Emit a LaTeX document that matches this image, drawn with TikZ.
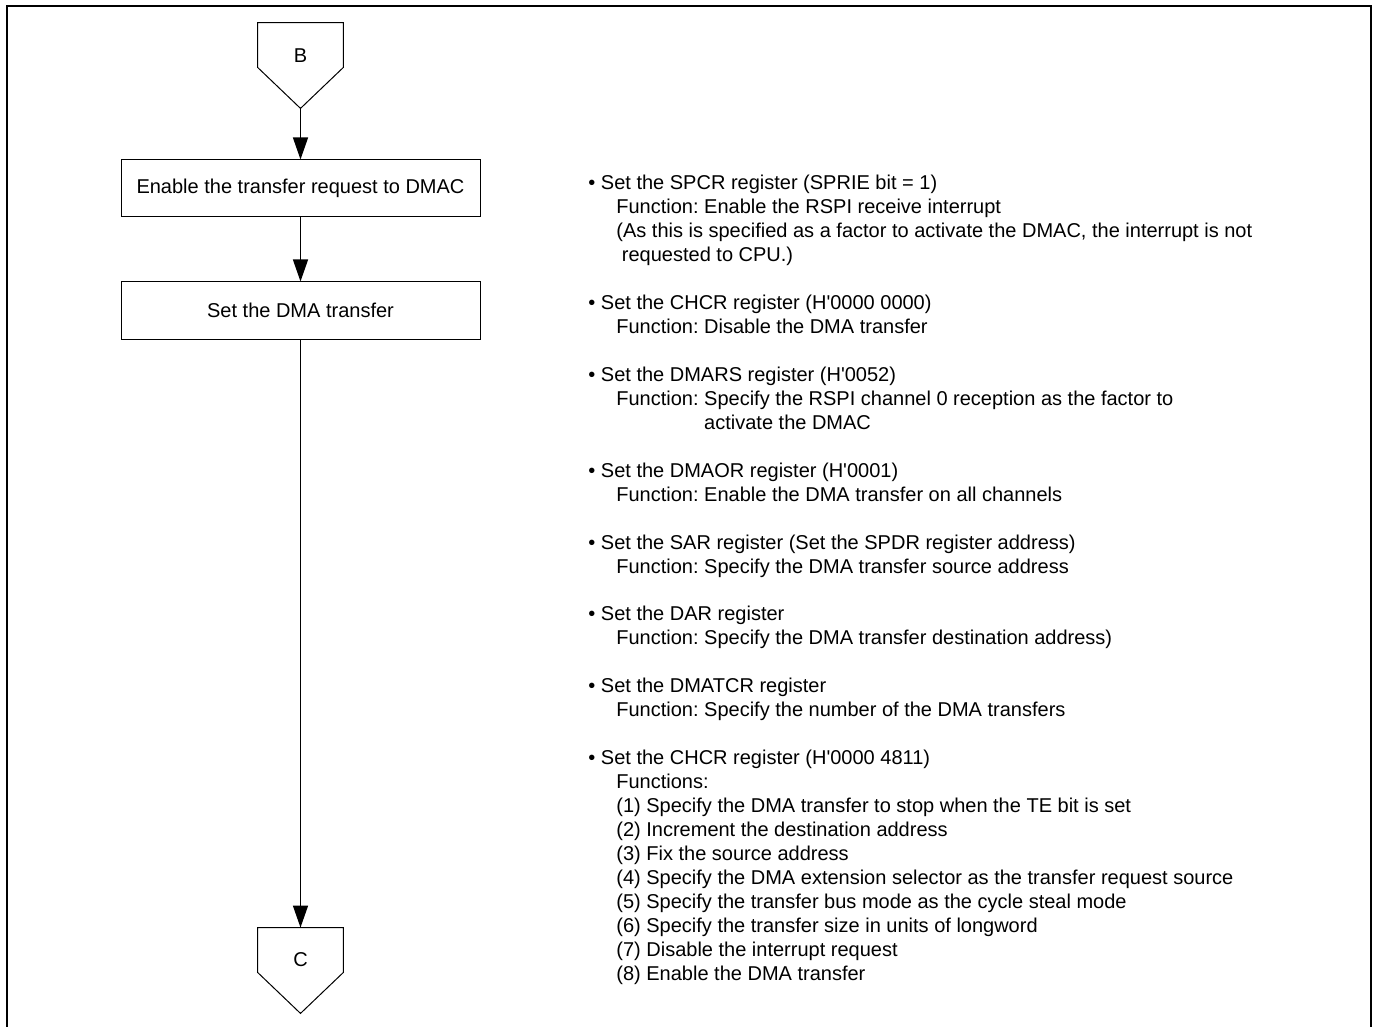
\documentclass[tikz,border=0pt]{standalone}
\usepackage{fontspec}
\setmainfont{Liberation Sans}
\usetikzlibrary{arrows.meta,calc}
\newcommand\fnind{\hspace*{14pt}}
\newcommand\apos{\textquotesingle}
\frenchspacing
\begin{document}
\begin{tikzpicture}[x=0.5pt,y=-0.5pt,
  font=\fontsize{10pt}{11.97pt}\selectfont,
  stepbox/.style={draw,line width=0.5pt,minimum width=179.5pt,minimum height=28.5pt,inner sep=0pt},
  connbody/.style={minimum width=42.5pt,minimum height=22pt,inner sep=0pt},
  conn/.style={line width=0.5pt,line join=miter},
  flow/.style={line width=0.65pt,-{Triangle[length=11pt,width=7.5pt]}},
  notes/.style={inner sep=0pt,anchor=base west}
]
\useasboundingbox (0,0) rectangle (1376,1027);
% outer frame, open at the bottom
\draw[line width=1.2pt] (7,1027) -- (7,6) -- (1371,6) -- (1371,1027);

% off-page connector B
\node[connbody] (B) at (300.5,45) {};
\coordinate (Btip) at ($(B.south)+(0,41)$);
\draw[conn] (B.north west) -- (B.north east) -- (B.south east) -- (Btip) -- (B.south west) -- cycle;
\node (Blabel) at (300.5,56) {B};

% process steps
\node[stepbox] (s1) at (300.5,188.5) {Enable the transfer request to DMAC};
\node[stepbox] (s2) at (300.5,310.5) {Set the DMA transfer};

% off-page connector C
\node[connbody] (C) at (300.5,950) {};
\coordinate (Ctip) at ($(C.south)+(0,41)$);
\draw[conn] (C.north west) -- (C.north east) -- (C.south east) -- (Ctip) -- (C.south west) -- cycle;
\node (Clabel) at (300.5,960) {C};

% flow
\draw[flow] (Btip) -- (s1.north);
\draw[flow] (s1.south) -- (s2.north);
\draw[flow] (s2.south) -- (C.north);

% register settings (the node's base is the first line's baseline)
\node[notes] (notes) at (588,190) {%
\begin{tabular}[t]{@{}l@{}}
\textbullet\ Set the SPCR register (SPRIE bit = 1)\\
\fnind Function: Enable the RSPI receive interrupt\\
\fnind (As this is specified as a factor to activate the DMAC, the interrupt is not\\
\fnind\ requested to CPU.)\\[11.97pt]
\textbullet\ Set the CHCR register (H\apos 0000 0000)\\
\fnind Function: Disable the DMA transfer\\[11.97pt]
\textbullet\ Set the DMARS register (H\apos 0052)\\
\fnind Function: Specify the RSPI channel 0 reception as the factor to\\
\fnind\phantom{Function: }activate the DMAC\\[11.97pt]
\textbullet\ Set the DMAOR register (H\apos 0001)\\
\fnind Function: Enable the DMA transfer on all channels\\[11.97pt]
\textbullet\ Set the SAR register (Set the SPDR register address)\\
\fnind Function: Specify the DMA transfer source address\\[11.97pt]
\textbullet\ Set the DAR register\\
\fnind Function: Specify the DMA transfer destination address)\\[11.97pt]
\textbullet\ Set the DMATCR register\\
\fnind Function: Specify the number of the DMA transfers\\[11.97pt]
\textbullet\ Set the CHCR register (H\apos 0000 4811)\\
\fnind Functions:\\
\fnind (1) Specify the DMA transfer to stop when the TE bit is set\\
\fnind (2) Increment the destination address\\
\fnind (3) Fix the source address\\
\fnind (4) Specify the DMA extension selector as the transfer request source\\
\fnind (5) Specify the transfer bus mode as the cycle steal mode\\
\fnind (6) Specify the transfer size in units of longword\\
\fnind (7) Disable the interrupt request\\
\fnind (8) Enable the DMA transfer
\end{tabular}};
\end{tikzpicture}
\end{document}
